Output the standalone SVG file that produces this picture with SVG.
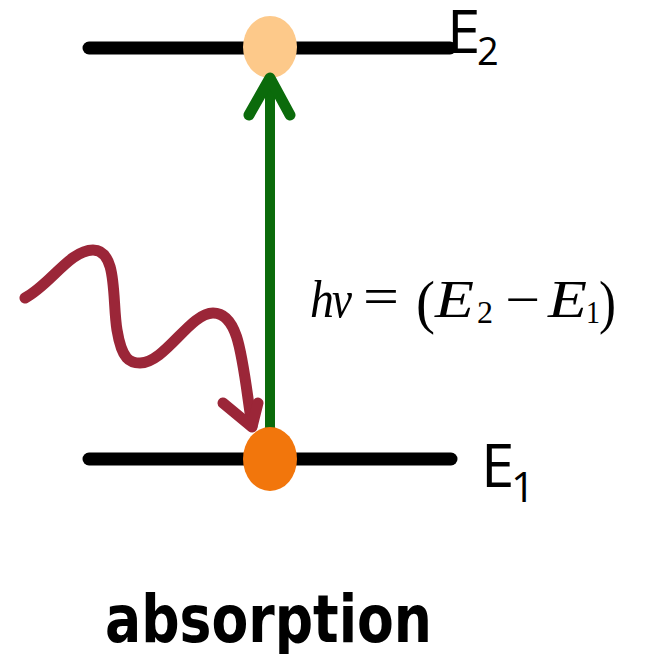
<svg xmlns="http://www.w3.org/2000/svg" width="646" height="654" viewBox="0 0 646 654">
<style>
.level{stroke:#000;stroke-width:13;stroke-linecap:round;fill:none}
.lbl{font-family:"Open Sans","Liberation Sans",sans-serif;fill:#000}
.eq{font-family:"Liberation Serif",serif;font-style:italic;font-size:53px;fill:#000}
.eqo{font-family:"Liberation Serif",serif;font-size:52px;fill:#000}
.eqp{font-family:"Liberation Serif",serif;font-size:60px;fill:#000}
.eqs{font-family:"Liberation Serif",serif;font-size:31px;fill:#000}
</style>
<rect width="646" height="654" fill="#fff"/>
<g id="level-E2"><line class="level" x1="89" y1="48" x2="450" y2="48"/></g>
<g id="level-E1"><line class="level" x1="89" y1="459" x2="451" y2="459"/></g>
<g id="connectors">
<path d="M25,298 C50,285 70,250 93,250 C118,250 112,300 117,330 C122,360 130,363 140,363 C165,363 190,313 213,313 C240,313 242,360 252,426" fill="none" stroke="#9b2638" stroke-width="11" stroke-linecap="round"/>
<path d="M223,403 L252,427 L258,403" fill="none" stroke="#9b2638" stroke-width="11" stroke-linecap="round" stroke-linejoin="round"/>
</g>
<g id="electron-E2"><ellipse cx="270" cy="47" rx="27" ry="31" fill="#fdc98a"/></g>
<g id="absorption-arrow">
<line x1="270" y1="80" x2="270" y2="432" stroke="#0b6b0b" stroke-width="10"/>
<path d="M249,115 L270,78 L290,115" fill="none" stroke="#0b6b0b" stroke-width="11" stroke-linecap="round" stroke-linejoin="round"/>
</g>
<g id="electron-E1"><ellipse cx="270" cy="459" rx="27" ry="32" fill="#f2760c"/></g>
<g id="label-E2"><text class="lbl" x="447" y="53" font-size="60">E</text><text class="lbl" x="477" y="65" font-size="38">2</text></g>
<g id="label-E1"><text class="lbl" x="481" y="487" font-size="60">E</text><text class="lbl" x="511" y="502" font-size="42">1</text></g>
<g id="equation">
<text class="eq" x="310" y="317" textLength="24" lengthAdjust="spacingAndGlyphs">h</text>
<text class="eq" x="332" y="317" textLength="20" lengthAdjust="spacingAndGlyphs">ν</text>
<text class="eqo" x="363" y="314" textLength="36" lengthAdjust="spacingAndGlyphs">=</text>
<text class="eqp" x="416" y="322" textLength="19" lengthAdjust="spacingAndGlyphs">(</text>
<text class="eq" x="435" y="317" textLength="39" lengthAdjust="spacingAndGlyphs">E</text>
<text class="eqs" x="477" y="323" textLength="16" lengthAdjust="spacingAndGlyphs">2</text>
<text class="eqo" x="505" y="317" textLength="35" lengthAdjust="spacingAndGlyphs">−</text>
<text class="eq" x="548" y="317" textLength="39" lengthAdjust="spacingAndGlyphs">E</text>
<text class="eqs" x="586" y="323" textLength="14" lengthAdjust="spacingAndGlyphs">1</text>
<text class="eqp" x="599" y="322" textLength="17" lengthAdjust="spacingAndGlyphs">)</text>
</g>
<g id="caption"><text x="105" y="642" font-family="'DejaVu Sans Condensed','DejaVu Sans',sans-serif" font-weight="bold" font-size="66" textLength="327" lengthAdjust="spacingAndGlyphs" fill="#000">absorption</text></g>
</svg>
